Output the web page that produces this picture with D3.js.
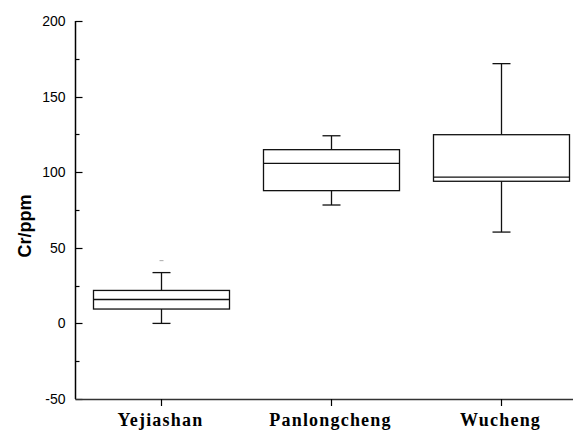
<!DOCTYPE html>
<html><head><meta charset="utf-8">
<script src="https://cdn.jsdelivr.net/npm/d3@7"></script>
<style>body{margin:0;background:#fff}svg{display:block}</style>
</head><body>
<svg id="c" width="573" height="430"></svg>
<script>
const categories = ["Yejiashan", "Panlongcheng", "Wucheng"];
const whiskerLow = [0, 78.3, 60.4];
const q1 = [9.5, 87.8, 94];
const median = [15.8, 105.9, 96.8];
const q3 = [21.8, 114.9, 124.8];
const whiskerHigh = [33.6, 124.1, 171.8];
const outliers = [41.5, null, null];
const yTicks = [-50, 0, 50, 100, 150, 200];
const yMinorTicks = [-25, 25, 75, 125, 175];
const yLabel = "Cr/ppm";

const svg = d3.select("#c");
const y = d3.scaleLinear().domain([-50, 200]).range([399, 21]);
const x = d3.scaleLinear().domain([0.5, 3.5]).range([75.5, 585.5]);
const axisX = 75.5;
const boxHalf = 68, capHalf = 9;

// y axis
const ya = svg.append("g").attr("transform", `translate(${axisX},0)`);
ya.append("line").attr("x1",0).attr("x2",0).attr("y1",y(200)).attr("y2",y(-50)).attr("stroke","#000").attr("stroke-width",1.5);
ya.selectAll(".maj").data(yTicks).join("line").attr("x1",0).attr("x2",7)
  .attr("y1",d=>Math.round(y(d))+0.5).attr("y2",d=>Math.round(y(d))+0.5).attr("stroke","#000").attr("stroke-width",1.2);
ya.selectAll(".min").data(yMinorTicks).join("line").attr("x1",0).attr("x2",4)
  .attr("y1",d=>Math.round(y(d))+0.5).attr("y2",d=>Math.round(y(d))+0.5).attr("stroke","#000").attr("stroke-width",1.2);
ya.selectAll("text").data(yTicks).join("text").attr("x",-10).attr("y",d=>y(d)).attr("dy","0.36em")
  .attr("text-anchor","end").attr("font-family","Liberation Sans, Arial, sans-serif").attr("font-size",14).text(d=>d);

svg.append("text").attr("transform","translate(31,226) rotate(-90)").attr("text-anchor","middle")
  .attr("font-family","Liberation Sans, Arial, sans-serif").attr("font-weight","bold").attr("font-size",18).text(yLabel);

// x axis
svg.append("line").attr("x1",axisX).attr("x2",590).attr("y1",399.5).attr("y2",399.5).attr("stroke","#333").attr("stroke-width",1.6);
const idx = categories.map((c,i)=>i);
svg.selectAll(".xt").data(idx).join("line").attr("x1",i=>Math.round(x(i+1))+0.5).attr("x2",i=>Math.round(x(i+1))+0.5)
  .attr("y1",399).attr("y2",406).attr("stroke","#000").attr("stroke-width",1.2);
svg.selectAll(".xl").data(idx).join("text").attr("x",i=>x(i+1)).attr("y",426).attr("text-anchor","middle")
  .attr("font-family","Liberation Serif, Times New Roman, serif").attr("font-weight","bold").attr("font-size",18)
  .attr("letter-spacing","1.2px").text(i=>categories[i]);

// boxes
const g = svg.append("g").attr("stroke","#111").attr("stroke-width",1.3).attr("fill","none");
idx.forEach(i=>{
  const cx = Math.round(x(i+1))+0.5;
  g.append("line").attr("x1",cx).attr("x2",cx).attr("y1",y(whiskerHigh[i])).attr("y2",y(q3[i]));
  g.append("line").attr("x1",cx).attr("x2",cx).attr("y1",y(q1[i])).attr("y2",y(whiskerLow[i]));
  g.append("line").attr("x1",cx-capHalf).attr("x2",cx+capHalf).attr("y1",y(whiskerHigh[i])).attr("y2",y(whiskerHigh[i]));
  g.append("line").attr("x1",cx-capHalf).attr("x2",cx+capHalf).attr("y1",y(whiskerLow[i])).attr("y2",y(whiskerLow[i]));
  g.append("rect").attr("x",cx-boxHalf).attr("width",2*boxHalf).attr("y",y(q3[i])).attr("height",y(q1[i])-y(q3[i]));
  g.append("line").attr("x1",cx-boxHalf).attr("x2",cx+boxHalf).attr("y1",y(median[i])).attr("y2",y(median[i]));
  if (outliers[i] !== null) {
    svg.append("line").attr("x1",cx-2).attr("x2",cx+2).attr("y1",y(outliers[i])).attr("y2",y(outliers[i]))
      .attr("stroke","#aaa").attr("stroke-width",1);
  }
});
</script>
</body></html>
